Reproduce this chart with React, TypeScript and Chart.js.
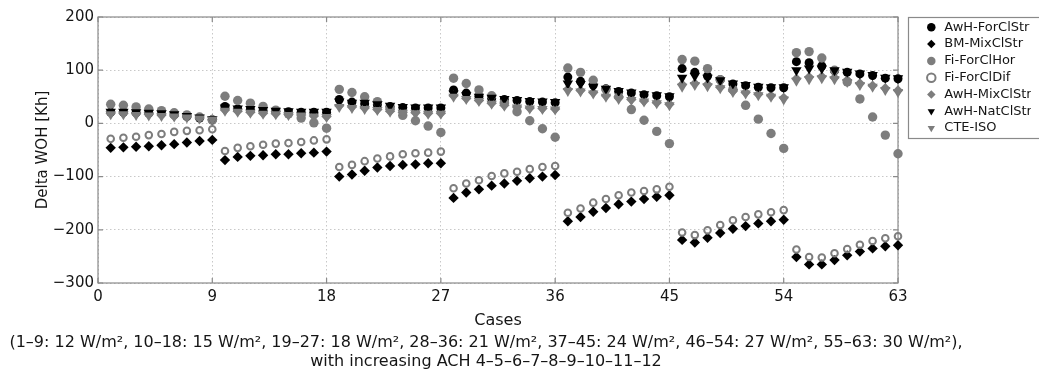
import React, { useEffect, useRef } from 'react';
import { Chart, registerables } from 'chart.js';

Chart.register(...registerables);

// ---- data ----
const cases = [
  1, 2, 3, 4, 5, 6, 7, 8, 9,
  10, 11, 12, 13, 14, 15, 16, 17, 18,
  19, 20, 21, 22, 23, 24, 25, 26, 27,
  28, 29, 30, 31, 32, 33, 34, 35, 36,
  37, 38, 39, 40, 41, 42, 43, 44, 45,
  46, 47, 48, 49, 50, 51, 52, 53, 54,
  55, 56, 57, 58, 59, 60, 61, 62, 63,
];

const xTickValues = [0, 9, 18, 27, 36, 45, 54, 63];
const yTickValues = [-300, -200, -100, 0, 100, 200];

const seriesNames = ['AwH-ForClStr', 'BM-MixClStr', 'Fi-ForClHor', 'Fi-ForClDif', 'AwH-MixClStr', 'AwH-NatClStr', 'CTE-ISO'];

const awhForClStr = [
  21, 21, 20, 19, 18, 16, 13, 10, 7,
  32, 27, 26, 24, 23, 22, 21, 21, 21,
  45, 40, 37, 35, 32, 30, 29, 29, 29,
  63, 57, 51, 47, 45, 43, 41, 40, 39,
  87, 79, 72, 65, 60, 57, 54, 52, 50,
  103, 96, 89, 82, 74, 71, 68, 67, 67,
  116, 114, 108, 99, 96, 93, 90, 85, 84,
];

const bmMixClStr = [
  -46, -45, -44, -43, -41, -39, -36, -33, -31,
  -69, -63, -61, -60, -58, -58, -56, -55, -53,
  -100, -96, -89, -83, -80, -78, -77, -75, -75,
  -140, -130, -124, -117, -113, -108, -103, -100, -97,
  -184, -176, -166, -159, -152, -147, -142, -138, -135,
  -219, -224, -215, -206, -198, -193, -188, -184, -181,
  -251, -265, -265, -257, -248, -241, -235, -231, -229,
];

const fiForClHor = [
  36, 34, 31, 27, 24, 20, 16, 12, 6,
  51, 43, 38, 32, 25, 18, 10, 1, -9,
  64, 58, 50, 41, 29, 15, 5, -5, -17,
  85, 75, 63, 52, 40, 22, 5, -10, -26,
  104, 96, 81, 64, 50, 26, 6, -15, -38,
  120, 117, 103, 82, 64, 34, 8, -19, -47,
  133, 135, 123, 100, 78, 46, 12, -22, -57,
];

const fiForClDif = [
  -29, -27, -25, -22, -20, -16, -14, -13, -11,
  -52, -46, -43, -40, -38, -37, -35, -32, -30,
  -82, -78, -71, -66, -62, -58, -56, -55, -53,
  -122, -113, -107, -99, -94, -91, -86, -82, -80,
  -168, -160, -149, -142, -135, -130, -127, -124, -119,
  -205, -210, -201, -191, -182, -176, -171, -167, -163,
  -237, -251, -252, -244, -236, -228, -221, -216, -212,
];

const awhMixClStr = [
  19, 19, 18, 17, 16, 14, 12, 10, 8,
  25, 23, 21, 19, 18, 17, 16, 14, 13,
  33, 31, 29, 26, 23, 21, 20, 19, 19,
  52, 47, 43, 38, 34, 31, 29, 28, 27,
  64, 62, 58, 52, 48, 45, 42, 39, 36,
  73, 75, 73, 68, 61, 58, 55, 52, 48,
  84, 87, 88, 86, 81, 75, 71, 66, 62,
];

const awhNatClStr = [
  22, 22, 21, 20, 19, 17, 14, 11, 8,
  30, 28, 27, 25, 24, 23, 22, 22, 22,
  41, 39, 39, 36, 33, 31, 30, 30, 30,
  56, 53, 50, 48, 46, 44, 42, 41, 40,
  75, 74, 69, 65, 61, 58, 55, 53, 51,
  86, 89, 86, 81, 75, 72, 69, 68, 68,
  100, 103, 103, 100, 97, 94, 91, 86, 85,
];

const cteIso = [
  17, 17, 16, 15, 14, 13, 11, 9, 7,
  24, 22, 20, 18, 17, 16, 15, 13, 12,
  31, 29, 27, 25, 22, 20, 19, 18, 18,
  50, 46, 42, 37, 33, 30, 28, 27, 26,
  61, 60, 56, 50, 46, 44, 41, 38, 34,
  69, 72, 70, 66, 59, 56, 53, 50, 45,
  80, 83, 85, 83, 78, 72, 69, 63, 59,
];

const seriesValues = [awhForClStr, bmMixClStr, fiForClHor, fiForClDif, awhMixClStr, awhNatClStr, cteIso];

const captionLines = [
  '(1\u20139: 12 W/m\u00b2, 10\u201318: 15 W/m\u00b2, 19\u201327: 18 W/m\u00b2, 28\u201336: 21 W/m\u00b2, 37\u201345: 24 W/m\u00b2, 46\u201354: 27 W/m\u00b2, 55\u201363: 30 W/m\u00b2),',
  'with increasing ACH 4\u20135\u20136\u20137\u20138\u20139\u201310\u201311\u201312',
];

// ---- styles ----
const FONT = "'DejaVu Sans', sans-serif";
const GRAY = '#7d7d7d';
const FRAME = '#8a8a8a';
const TEXT = '#151515';
const GRID = '#c8c8c8';

const markerStyles = [
  { pointStyle: 'circle', radius: 4.5, bg: '#000000', border: '#000000', bw: 0, rot: 0 },
  { pointStyle: 'rectRot', radius: 5.2, bg: '#000000', border: '#000000', bw: 0, rot: 0 },
  { pointStyle: 'circle', radius: 4.7, bg: GRAY, border: GRAY, bw: 0, rot: 0 },
  { pointStyle: 'circle', radius: 3.3, bg: 'rgba(0,0,0,0)', border: GRAY, bw: 2, rot: 0 },
  { pointStyle: 'rectRot', radius: 5.2, bg: GRAY, border: GRAY, bw: 0, rot: 0 },
  { pointStyle: 'triangle', radius: 6, bg: '#000000', border: '#000000', bw: 0, rot: 180 },
  { pointStyle: 'triangle', radius: 6, bg: GRAY, border: GRAY, bw: 0, rot: 180 },
];

const framePlugin = {
  id: 'frameAndTicks',
  beforeDatasetsDraw(chart: any) {
    const { ctx, chartArea: a, scales } = chart;
    ctx.save();
    ctx.strokeStyle = FRAME;
    ctx.lineWidth = 1.2;
    ctx.strokeRect(a.left, a.top, a.right - a.left, a.bottom - a.top);
    const tl = 5;
    ctx.beginPath();
    scales.x.ticks.forEach((t: any) => {
      const px = scales.x.getPixelForValue(t.value);
      ctx.moveTo(px, a.bottom); ctx.lineTo(px, a.bottom - tl);
      ctx.moveTo(px, a.top); ctx.lineTo(px, a.top + tl);
    });
    scales.y.ticks.forEach((t: any) => {
      const py = scales.y.getPixelForValue(t.value);
      ctx.moveTo(a.left, py); ctx.lineTo(a.left + tl, py);
      ctx.moveTo(a.right, py); ctx.lineTo(a.right - tl, py);
    });
    ctx.stroke();
    ctx.restore();
  },
};

const overlayPlugin = {
  id: 'legendBoxAndCaption',
  afterDraw(chart: any) {
    const { ctx, chartArea: a } = chart;
    ctx.save();
    if (chart.legend) {
      ctx.strokeStyle = FRAME;
      ctx.lineWidth = 1.2;
      ctx.strokeRect(a.right + 10.5, a.top + 0.5, 300, 121);
    }
    ctx.fillStyle = TEXT;
    ctx.font = `16px ${FONT}`;
    ctx.textAlign = 'center';
    ctx.textBaseline = 'middle';
    const cx = (a.left + a.right) / 2 - 12;
    ctx.fillText(captionLines[0], cx, a.bottom + 60);
    ctx.fillText(captionLines[1], cx, a.bottom + 79);
    ctx.restore();
  },
};

export default function App() {
  const ref = useRef<HTMLCanvasElement | null>(null);

  useEffect(() => {
    if (!ref.current) return;
    const datasets = seriesNames.map((name, i) => {
      const s = markerStyles[i];
      return {
        label: name,
        data: cases.map((c, j) => ({ x: c, y: seriesValues[i][j] })),
        showLine: false,
        order: seriesNames.length - 1 - i,
        clip: false as any,
        pointStyle: s.pointStyle,
        pointRadius: s.radius,
        pointHoverRadius: s.radius,
        pointRotation: s.rot,
        pointBackgroundColor: s.bg,
        pointBorderColor: s.border,
        pointBorderWidth: s.bw,
        backgroundColor: s.bg,
        borderColor: s.border,
        borderWidth: s.bw,
      };
    });

    const chart = new Chart(ref.current, {
      type: 'scatter',
      data: { datasets: datasets as any },
      options: {
        responsive: false,
        animation: false,
        events: [],
        layout: { padding: { top: 17, right: 14, bottom: 44, left: 0 } },
        scales: {
          x: {
            type: 'linear',
            min: 0,
            max: 63,
            afterBuildTicks: (s: any) => { s.ticks = xTickValues.map((v) => ({ value: v })); },
            afterFit: (s: any) => { s.height = 47; },
            grid: { color: GRID, lineWidth: 1, drawTicks: false },
            border: { display: false, dash: [1.5, 2.5] },
            ticks: { font: { family: FONT, size: 15 }, color: TEXT, padding: 5.5, maxRotation: 0, autoSkip: false },
            title: { display: true, text: 'Cases', font: { family: FONT, size: 16 }, color: TEXT, padding: { top: 0, bottom: 0 } },
          },
          y: {
            type: 'linear',
            min: -300,
            max: 200,
            afterBuildTicks: (s: any) => { s.ticks = yTickValues.map((v) => ({ value: v })); },
            afterFit: (s: any) => { s.width = 98; },
            grid: { color: GRID, lineWidth: 1, drawTicks: false },
            border: { display: false, dash: [1.5, 2.5] },
            ticks: {
              font: { family: FONT, size: 15 },
              color: TEXT,
              padding: 4,
              callback: (v: any) => String(v).replace('-', '\u2212'),
            },
            title: { display: true, text: 'Delta WOH [Kh]', font: { family: FONT, size: 15 }, color: TEXT, padding: { top: 34, bottom: 0 } },
          },
          gap: {
            type: 'linear',
            position: 'right',
            display: true,
            grid: { display: false, drawTicks: false },
            border: { display: false },
            ticks: { display: false },
            afterFit: (s: any) => { s.width = 23; },
          },
        },
        plugins: {
          legend: {
            position: 'right',
            align: 'start',
            maxWidth: 110,
            labels: {
              usePointStyle: true,
              boxWidth: 13,
              boxHeight: 6,
              padding: 3.8,
              color: TEXT,
              font: { family: FONT, size: 13 },
              sort: (a: any, b: any) => a.datasetIndex - b.datasetIndex,
            },
          },
          tooltip: { enabled: false },
        },
      },
      plugins: [framePlugin, overlayPlugin],
    });
    return () => chart.destroy();
  }, []);

  return (
    <div style={{ position: 'fixed', left: 0, top: 0, width: 1039, height: 374, overflow: 'hidden', background: '#ffffff' }}>
      <canvas ref={ref} width={1045} height={374} style={{ width: 1045, height: 374, display: 'block' }} />
    </div>
  );
}
